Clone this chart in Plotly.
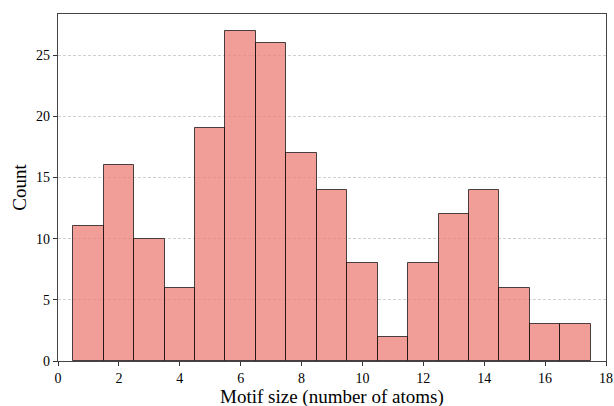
import plotly.graph_objects as go

sizes = list(range(1, 18))
counts = [11, 16, 10, 6, 19, 27, 26, 17, 14, 8, 2, 8, 12, 14, 6, 3, 3]
x_ticks = [0, 2, 4, 6, 8, 10, 12, 14, 16, 18]
y_ticks = [0, 5, 10, 15, 20, 25]
x_title = "Motif size (number of atoms)"
y_title = "Count"

fig = go.Figure()
fig.add_trace(go.Bar(
    x=sizes, y=counts, width=1,
    marker=dict(color="rgba(238,128,120,0.76)",
                line=dict(color="rgba(0,0,0,0.7)", width=1)),
))

font = "Liberation Serif, DejaVu Serif, serif"
fig.update_layout(
    width=614, height=406,
    margin=dict(l=58, r=8, t=14, b=45),
    plot_bgcolor="white", paper_bgcolor="white",
    font=dict(family=font, color="black", size=14),
    showlegend=False, bargap=0,
)
fig.add_annotation(
    text=x_title, xref="paper", yref="paper", x=0.5, y=-0.105,
    xanchor="center", yanchor="middle", showarrow=False, font=dict(size=19),
)
fig.update_xaxes(
    range=[0, 18], tickvals=x_ticks, ticks="outside", ticklen=4, tickcolor="#333",
    showgrid=False, zeroline=False, showline=True, linecolor="#444", linewidth=1.2,
    mirror=True, automargin=False,
)
fig.update_yaxes(
    range=[0, 28.35], tickvals=y_ticks, ticks="outside", ticklen=4, tickcolor="#333",
    showgrid=True, gridcolor="#d0d0d0", griddash="3px,2px", gridwidth=0.8,
    zeroline=False, showline=True, linecolor="#444", linewidth=1.2, mirror=True,
    automargin=False,
    title=dict(text=y_title, font=dict(size=19), standoff=4),
)
fig.write_html("out.html")
